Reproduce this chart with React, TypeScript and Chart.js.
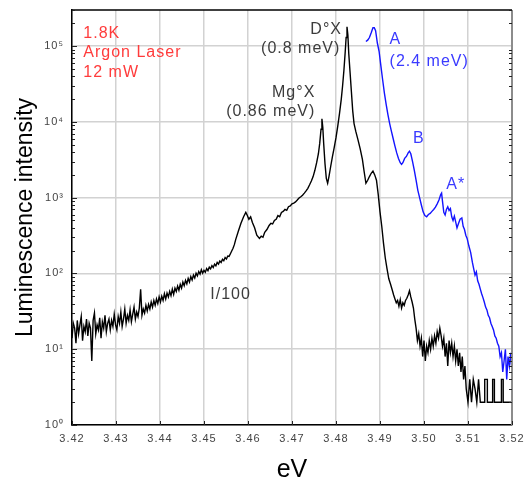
import React, { useEffect, useRef } from 'react';
import { Chart, registerables } from 'chart.js';

Chart.register(...registerables);

// ---- axis ticks ----
const xTickValues = [3.42, 3.43, 3.44, 3.45, 3.46, 3.47, 3.48, 3.49, 3.5, 3.51, 3.52];
const xTickLabels = ['3.42', '3.43', '3.44', '3.45', '3.46', '3.47', '3.48', '3.49', '3.50', '3.51', '3.52'];
const yTickValues = [1, 10, 100, 1000, 10000, 100000];
const yTickLabels = ['10⁰', '10¹', '10²', '10³', '10⁴', '10⁵'];

// ---- black spectrum (I/100): [energy eV, intensity] ----
const scaledSpectrum: [number, number][] = [
  [3.42, 14], [3.4203, 22], [3.4206, 19], [3.4209, 12], [3.4212, 24], [3.4215, 16], [3.4218, 21], [3.4221, 27],
  [3.4224, 13], [3.4227, 20], [3.423, 17], [3.4233, 25], [3.4236, 15], [3.4239, 22], [3.4242, 19], [3.4245, 7],
  [3.4248, 24], [3.4251, 30], [3.4254, 16], [3.4257, 21], [3.426, 18], [3.4263, 26], [3.4266, 14], [3.4269, 23],
  [3.4272, 19], [3.4275, 28], [3.4278, 17], [3.4281, 22], [3.4284, 25], [3.4287, 18], [3.429, 24], [3.4293, 20],
  [3.4296, 29], [3.4299, 21], [3.4302, 18], [3.4305, 27], [3.4308, 22], [3.4311, 31], [3.4314, 20], [3.4317, 25],
  [3.432, 34], [3.4323, 22], [3.4326, 28], [3.4329, 24], [3.4332, 33], [3.4335, 23], [3.4338, 29], [3.4341, 36],
  [3.4344, 25], [3.4347, 31], [3.435, 27], [3.4353, 35], [3.4356, 62], [3.4359, 28], [3.4362, 34], [3.4365, 30],
  [3.4368, 38], [3.4371, 32], [3.4374, 39], [3.4377, 34], [3.438, 42], [3.4383, 36], [3.4386, 44], [3.4389, 38],
  [3.4392, 46], [3.4395, 40], [3.4398, 49], [3.4401, 42], [3.4404, 50], [3.4407, 44], [3.441, 54], [3.4413, 46],
  [3.4416, 55], [3.4419, 49], [3.4422, 58], [3.4425, 51], [3.4428, 62], [3.4431, 53], [3.4434, 64], [3.4437, 58],
  [3.444, 68], [3.4443, 60], [3.4446, 72], [3.4449, 64], [3.4452, 77], [3.4455, 69], [3.4458, 81], [3.4461, 73],
  [3.4464, 86], [3.4467, 77], [3.447, 91], [3.4473, 82], [3.4476, 95], [3.4479, 87], [3.4482, 101], [3.4485, 93],
  [3.4488, 106], [3.4491, 98], [3.4494, 112], [3.4497, 101], [3.45, 110], [3.4503, 104], [3.4506, 116], [3.4509, 109],
  [3.4512, 121], [3.4515, 115], [3.4518, 127], [3.4521, 120], [3.4524, 133], [3.4527, 126], [3.453, 140], [3.4533, 133],
  [3.4536, 146], [3.4539, 140], [3.4542, 154], [3.4545, 147], [3.4548, 162], [3.4551, 155], [3.4554, 170], [3.4557, 168],
  [3.456, 182], [3.4563, 198], [3.4566, 215], [3.4569, 240], [3.4572, 280], [3.4578, 360], [3.4584, 460], [3.459, 560],
  [3.4595, 640], [3.4598, 590], [3.4602, 520], [3.4606, 560], [3.461, 470], [3.4615, 400], [3.462, 320], [3.4626, 290],
  [3.463, 310], [3.4634, 300], [3.4638, 350], [3.4643, 380], [3.4648, 430], [3.4652, 460], [3.4656, 450], [3.466, 500],
  [3.4664, 520], [3.4668, 580], [3.4672, 560], [3.4676, 640], [3.468, 660], [3.4684, 700], [3.4688, 680], [3.4692, 760],
  [3.4696, 780], [3.47, 830], [3.4704, 850], [3.4708, 880], [3.4712, 930], [3.4716, 990], [3.472, 1030], [3.4724, 1080],
  [3.4728, 1150], [3.4732, 1230], [3.4736, 1330], [3.474, 1480], [3.4744, 1660], [3.4748, 1900], [3.4752, 2300], [3.4756, 2900],
  [3.476, 3800], [3.4763, 5200], [3.4766, 8000], [3.4768, 11000], [3.477, 8500], [3.4772, 5200], [3.4775, 2800], [3.4778, 1800],
  [3.4781, 1550], [3.4784, 1900], [3.4788, 2600], [3.4792, 3500], [3.4796, 4600], [3.48, 6200], [3.4804, 8800], [3.4808, 13000],
  [3.4812, 20000], [3.4815, 30000], [3.4818, 48000], [3.4821, 85000], [3.4823, 130000], [3.4825, 180000], [3.4827, 140000], [3.4829, 80000],
  [3.4832, 45000], [3.4835, 25000], [3.4838, 14000], [3.4841, 9500], [3.4845, 7500], [3.485, 5800], [3.4855, 4400], [3.486, 3200],
  [3.4864, 2200], [3.4868, 1550], [3.4872, 1700], [3.4876, 1900], [3.488, 2100], [3.4884, 2250], [3.4888, 2000], [3.4892, 1700],
  [3.4896, 1100], [3.49, 650], [3.4904, 420], [3.4908, 250], [3.4912, 160], [3.4916, 115], [3.492, 85], [3.4924, 72],
  [3.4928, 60], [3.4931, 52], [3.4934, 46], [3.4937, 41], [3.494, 44], [3.4943, 37], [3.4946, 45], [3.4949, 35],
  [3.4952, 41], [3.4955, 38], [3.4958, 44], [3.4961, 47], [3.4964, 52], [3.4967, 59], [3.497, 49], [3.4973, 42],
  [3.4976, 35], [3.4979, 25], [3.4982, 19], [3.4985, 13], [3.4988, 16], [3.4991, 11], [3.4994, 14], [3.4997, 8],
  [3.5, 13], [3.5003, 7], [3.5006, 11], [3.5009, 9], [3.5012, 13], [3.5015, 10], [3.5018, 14], [3.5021, 11],
  [3.5024, 15], [3.5027, 12], [3.503, 17], [3.5033, 14], [3.5036, 19], [3.5039, 15], [3.5042, 11], [3.5045, 14],
  [3.5048, 8], [3.5051, 12], [3.5054, 6], [3.5057, 13], [3.506, 9], [3.5063, 12], [3.5066, 8], [3.5069, 11],
  [3.5072, 7], [3.5075, 10], [3.5078, 6], [3.5081, 9], [3.5084, 5], [3.5087, 8], [3.509, 4], [3.5093, 6],
  [3.5096, 3], [3.51, 2], [3.5104, 4], [3.5108, 2], [3.5112, 4], [3.5116, 3], [3.512, 2], [3.5124, 4],
  [3.5128, 2], [3.5132, 2], [3.5138, 2], [3.5138, 4], [3.5144, 4], [3.5144, 2], [3.5156, 2], [3.5156, 4],
  [3.516, 4], [3.516, 2], [3.5176, 2], [3.5176, 4], [3.518, 4], [3.518, 2], [3.52, 2],
];

// ---- blue spectrum (free exciton A region): [energy eV, intensity] ----
const excitonSpectrum: [number, number][] = [
  [3.4868, 115000], [3.4872, 120000], [3.4876, 130000], [3.488, 150000], [3.4884, 175000], [3.4887, 175000], [3.489, 160000], [3.4894, 110000],
  [3.4898, 85000], [3.4902, 55000], [3.4906, 36000], [3.491, 24000], [3.4914, 17000], [3.4918, 12500], [3.4922, 9500], [3.4926, 7500],
  [3.493, 6000], [3.4934, 4800], [3.4938, 3900], [3.4942, 3300], [3.4946, 2900], [3.4949, 2750], [3.4952, 2900], [3.4956, 3300],
  [3.496, 3500], [3.4964, 3900], [3.4967, 4100], [3.497, 3800], [3.4974, 3000], [3.4978, 2300], [3.4982, 1700], [3.4986, 1250],
  [3.499, 1000], [3.4994, 800], [3.4998, 650], [3.5002, 580], [3.5006, 560], [3.501, 600], [3.5014, 620], [3.5018, 660],
  [3.5022, 700], [3.5026, 750], [3.503, 830], [3.5034, 930], [3.5038, 1100], [3.504, 1150], [3.5042, 900], [3.5045, 640],
  [3.5048, 590], [3.5051, 700], [3.5054, 760], [3.5057, 680], [3.506, 720], [3.5063, 560], [3.5066, 500], [3.5069, 570],
  [3.5072, 480], [3.5075, 400], [3.5078, 450], [3.5082, 520], [3.5086, 540], [3.5089, 420], [3.5092, 380], [3.5095, 320],
  [3.5098, 290], [3.5102, 230], [3.5106, 190], [3.511, 140], [3.5113, 115], [3.5116, 95], [3.5119, 105], [3.5122, 80],
  [3.5125, 72], [3.5128, 62], [3.5131, 54], [3.5134, 48], [3.5137, 42], [3.514, 36], [3.5143, 33], [3.5146, 28],
  [3.5149, 26], [3.5152, 22], [3.5155, 20], [3.5158, 18], [3.5161, 15], [3.5164, 14], [3.5167, 12], [3.517, 11],
  [3.5173, 8], [3.5176, 9], [3.5179, 5], [3.5182, 7], [3.5185, 10], [3.5188, 4], [3.5191, 8], [3.5194, 6],
  [3.5197, 9], [3.52, 5],
];

// ---- text annotations (anchored in data coordinates) ----
const RED = '#ff3b3b';
const DARK = '#3c3c3c';
const BLUE_TEXT = '#3a3aff';
const annotationTexts = ['1.8K', 'Argon Laser', '12 mW', 'D°X', '(0.8 meV)', 'Mg°X', '(0.86 meV)', 'A', '(2.4 meV)', 'B', 'A*', 'I/100'];
const annotationEnergy = [3.42257, 3.42257, 3.42257, 3.48136, 3.48098, 3.4753, 3.4753, 3.49218, 3.49218, 3.4975, 3.50507, 3.45143];
const annotationIntensity = [128500, 71600, 39700, 143900, 80200, 21500, 12000, 105200, 54600, 5350, 1300, 46.5];
const annotationColors = [RED, RED, RED, DARK, DARK, DARK, DARK, BLUE_TEXT, BLUE_TEXT, BLUE_TEXT, BLUE_TEXT, DARK];
const annotationAlign: CanvasTextAlign[] = ['left', 'left', 'left', 'right', 'right', 'right', 'right', 'left', 'left', 'left', 'left', 'left'];

const FONT = '"Liberation Sans", Arial, sans-serif';

const decorPlugin = {
  id: 'decor',
  beforeDraw(chart: any) {
    (chart.ctx as any).letterSpacing = '1px';
  },
  afterDraw(chart: any) {
    const { ctx, chartArea, scales } = chart;
    const { left, right, top, bottom } = chartArea;
    const x = scales.x;
    const y = scales.y;
    ctx.save();
    // frame: top black, right grey
    ctx.strokeStyle = '#000';
    ctx.lineWidth = 1.5;
    ctx.beginPath();
    ctx.moveTo(left, top);
    ctx.lineTo(right, top);
    ctx.stroke();
    ctx.strokeStyle = '#8c8c8c';
    ctx.lineWidth = 2;
    ctx.beginPath();
    ctx.moveTo(right, top);
    ctx.lineTo(right, bottom);
    ctx.stroke();

    // minor log ticks inside left and right axes
    ctx.lineWidth = 1;
    ctx.strokeStyle = '#222';
    for (const d of yTickValues) {
      for (let m = 2; m <= 9; m++) {
        const v = d * m;
        if (v > y.max) break;
        const py = Math.round(y.getPixelForValue(v)) + 0.5;
        ctx.beginPath();
        ctx.moveTo(left, py);
        ctx.lineTo(left + 3, py);
        ctx.moveTo(right - 3, py);
        ctx.lineTo(right, py);
        ctx.stroke();
      }
      const pyM = Math.round(y.getPixelForValue(d)) + 0.5;
      ctx.beginPath();
      ctx.moveTo(left, pyM);
      ctx.lineTo(left + 5, pyM);
      ctx.stroke();
    }
    // x major ticks inside
    for (const t of xTickValues) {
      const px = Math.round(x.getPixelForValue(t)) + 0.5;
      ctx.beginPath();
      ctx.moveTo(px, bottom);
      ctx.lineTo(px, bottom - 4);
      ctx.stroke();
    }

    // annotations
    (ctx as any).letterSpacing = '1px';
    ctx.font = `16px ${FONT}`;
    ctx.textBaseline = 'alphabetic';
    annotationTexts.forEach((t, i) => {
      ctx.fillStyle = annotationColors[i];
      ctx.textAlign = annotationAlign[i];
      ctx.fillText(t, x.getPixelForValue(annotationEnergy[i]), y.getPixelForValue(annotationIntensity[i]));
    });

    // axis titles
    (ctx as any).letterSpacing = '0px';
    ctx.fillStyle = '#000';
    ctx.textAlign = 'center';
    ctx.font = `25px ${FONT}`;
    ctx.fillText('eV', (left + right) / 2, 476.5);
    ctx.translate(32, (top + bottom) / 2);
    ctx.rotate(-Math.PI / 2);
    ctx.font = `23px ${FONT}`;
    ctx.fillText('Luminescence intensity', 0, 0);
    ctx.restore();
  },
};

const zeroPad = (s: any) => {
  s.paddingTop = 0;
  s.paddingBottom = 0;
  s.paddingLeft = 0;
  s.paddingRight = 0;
};

export default function App() {
  const canvasRef = useRef<HTMLCanvasElement | null>(null);

  useEffect(() => {
    if (!canvasRef.current) return;
    const chart = new Chart(canvasRef.current, {
      type: 'line',
      data: {
        datasets: [
          {
            label: 'A',
            data: excitonSpectrum.map(([e, v]) => ({ x: e, y: v })),
            borderColor: '#1414ff',
            borderWidth: 1.4,
            pointRadius: 0,
            tension: 0,
            order: 0,
          },
          {
            label: 'I/100',
            data: scaledSpectrum.map(([e, v]) => ({ x: e, y: v })),
            borderColor: '#000',
            borderWidth: 1.4,
            pointRadius: 0,
            tension: 0,
            order: 1,
          },
        ],
      },
      options: {
        animation: false,
        responsive: false,
        devicePixelRatio: 1,
        layout: { padding: { left: 0, top: 10, right: 13, bottom: 0 } },
        plugins: { legend: { display: false }, tooltip: { enabled: false } },
        scales: {
          x: {
            type: 'linear',
            min: 3.42,
            max: 3.52,
            afterBuildTicks: (s: any) => {
              s.ticks = xTickValues.map((v) => ({ value: v }));
            },
            afterFit: (s: any) => {
              s.height = 56;
              zeroPad(s);
            },
            ticks: {
              callback: (v: any) => {
                const i = xTickValues.findIndex((t) => Math.abs(t - v) < 1e-6);
                return i >= 0 ? xTickLabels[i] : '';
              },
              color: '#444',
              font: { family: FONT, size: 11 },
              padding: 7,
              maxRotation: 0,
              autoSkip: false,
            },
            grid: { color: '#d2d2d2', lineWidth: 1.5, drawTicks: false },
            border: { color: '#000', width: 1.5 },
          },
          y: {
            type: 'logarithmic',
            min: 1,
            max: 300000,
            afterBuildTicks: (s: any) => {
              s.ticks = yTickValues.map((v) => ({ value: v }));
            },
            afterFit: (s: any) => {
              s.width = 72;
              zeroPad(s);
            },
            ticks: {
              callback: (v: any) => {
                const i = yTickValues.findIndex((t) => Math.abs(t - v) < 1e-6 * t);
                return i >= 0 ? yTickLabels[i] : '';
              },
              color: '#444',
              font: { family: FONT, size: 11 },
              padding: 8,
              autoSkip: false,
            },
            grid: { color: '#d2d2d2', lineWidth: 1.5, drawTicks: false },
            border: { color: '#000', width: 1.5 },
          },
        },
      },
      plugins: [decorPlugin],
    });
    return () => chart.destroy();
  }, []);

  return (
    <div style={{ position: 'fixed', left: 0, top: 0, width: 525, height: 481, background: '#fff' }}>
      <canvas ref={canvasRef} width={525} height={481} />
    </div>
  );
}
